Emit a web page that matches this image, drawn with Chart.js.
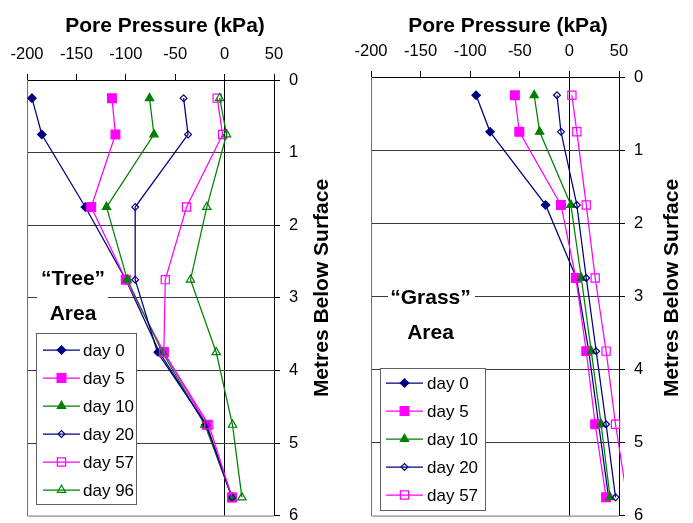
<!DOCTYPE html>
<html><head><meta charset="utf-8">
<script src="https://cdn.jsdelivr.net/npm/chart.js@4/dist/chart.umd.min.js"></script>
<style>
html,body{margin:0;padding:0;background:#fff;}
#wrap{position:relative;width:693px;height:523px;overflow:hidden;background:#fff;}
canvas{position:absolute;top:0;}
</style></head><body>
<div id="wrap">
<canvas id="tree" width="346" height="523" style="left:0;width:346px;height:523px"></canvas>
<canvas id="grass" width="347" height="523" style="left:346px;width:347px;height:523px"></canvas>
</div>
<script>
// ---------- DATA ----------
const depths = [0.25, 0.75, 1.75, 2.75, 3.75, 4.75, 5.75];
const xTicks = [-200, -150, -100, -50, 0, 50];
const yTicks = [0, 1, 2, 3, 4, 5, 6];
const xTitle = 'Pore Pressure (kPa)';
const yTitle = 'Metres Below Surface';

const treeLabels = ['day 0', 'day 5', 'day 10', 'day 20', 'day 57', 'day 96'];
const treeDay0  = [-195, -185, -141, -100, -66, -19, 7.5];
const treeDay5  = [-114, -110.5, -135, -100, -61.5, -18, 7.5];
const treeDay10 = [-76, -71.5, -119.5, -98.5, -63, -20, 7.5];
const treeDay20 = [-41.5, -37, -90.5, -90.5, -68, -18.5, 7.5];
const treeDay57 = [-7.5, -2, -38.5, -60, -61.5, -16, 7.5];
const treeDay96 = [-5, 2, -18, -34.5, -8.5, 8, 17.5];
const treeNote = ['\u201CTree\u201D', 'Area'];

const grassLabels = ['day 0', 'day 5', 'day 10', 'day 20', 'day 57'];
const grassDay0  = [-94, -80, -24, 7, 19.5, 29.5, 39.5];
const grassDay5  = [-55, -50.5, -8.5, 6.5, 17, 26, 37];
const grassDay10 = [-35.5, -30, 1.5, 12, 22, 32, 41];
const grassDay20 = [-12.5, -8.5, 7.5, 17, 27, 37, 46.5];
const grassDay57 = [2.5, 7.5, 17, 26, 37, 46.5, 58];
const grassNote = ['\u201CGrass\u201D', 'Area'];

// ---------- STYLES ----------
const FF = '"Liberation Sans", Arial, Helvetica, sans-serif';
const NAVY = '#000080', MAG = '#FF00FF', GRN = '#008000';
const seriesStyles = [
  {color: NAVY, style: 'rectRot', r: 4.2, fill: true},
  {color: MAG, style: 'rect', r: 6.2, fill: true},
  {color: GRN, style: 'triangle', r: 4.8, fill: true},
  {color: NAVY, style: 'rectRot', r: 3.4, fill: false},
  {color: MAG, style: 'rect', r: 5.8, fill: false},
  {color: GRN, style: 'triangle', r: 4.8, fill: false}
];

function drawMarker(ctx, st, x, y) {
  const r = st.r;
  ctx.save();
  ctx.beginPath();
  if (st.style === 'rect') {
    const s = r * Math.SQRT1_2;
    ctx.rect(x - s, y - s, 2 * s, 2 * s);
  } else if (st.style === 'rectRot') {
    ctx.moveTo(x - r, y); ctx.lineTo(x, y - r); ctx.lineTo(x + r, y); ctx.lineTo(x, y + r); ctx.closePath();
  } else {
    for (let i = 0; i < 3; i++) {
      const a = i * 2 * Math.PI / 3;
      const px = x + Math.sin(a) * r, py = y - Math.cos(a) * r;
      if (i === 0) ctx.moveTo(px, py); else ctx.lineTo(px, py);
    }
    ctx.closePath();
  }
  ctx.lineWidth = 1.2;
  ctx.strokeStyle = st.color;
  if (st.fill) { ctx.fillStyle = st.color; ctx.fill(); }
  ctx.stroke();
  ctx.restore();
}

function makeChart(id, cfg) {
  const datasets = cfg.series.map((vals, i) => {
    const st = seriesStyles[i];
    return {
      label: cfg.labels[i],
      data: vals.map((v, k) => ({x: v, y: depths[k]})),
      borderColor: st.color,
      backgroundColor: st.fill ? st.color : 'rgba(0,0,0,0)',
      pointBackgroundColor: st.fill ? st.color : 'rgba(0,0,0,0)',
      pointBorderColor: st.color,
      pointStyle: st.style,
      pointRadius: st.r,
      pointBorderWidth: 1.2,
      borderWidth: 1.25,
      showLine: true,
      tension: 0,
      order: 10 - i,
      clip: {left: 5, right: 5, top: 5, bottom: 5}
    };
  });

  const deco = {
    id: 'deco',
    beforeDatasetsDraw(chart) {
      const {ctx, chartArea: a} = chart;
      ctx.save();
      ctx.strokeStyle = '#707070';
      ctx.lineWidth = 1;
      ctx.beginPath();
      ctx.moveTo(a.left + 0.5, a.top);
      ctx.lineTo(a.left + 0.5, a.bottom + 0.5);
      ctx.lineTo(a.right, a.bottom + 0.5);
      ctx.stroke();
      ctx.restore();
    },
    afterDatasetsDraw(chart) {
      const {ctx} = chart;
      ctx.save();
      const n = cfg.note;
      ctx.fillStyle = '#fff';
      ctx.fillRect(n.box[0], n.box[1], n.box[2], n.box[3]);
      ctx.fillStyle = '#000';
      ctx.font = 'bold 21px ' + FF;
      ctx.textAlign = 'center';
      ctx.textBaseline = 'alphabetic';
      ctx.fillText(cfg.noteText[0], n.x1, n.y1);
      ctx.fillText(cfg.noteText[1], n.x2, n.y2);
      const L = cfg.legend;
      ctx.fillStyle = '#fff';
      ctx.fillRect(L.x, L.y, L.w, L.h);
      ctx.strokeStyle = '#606060';
      ctx.lineWidth = 1;
      ctx.strokeRect(L.x + 0.5, L.y + 0.5, L.w, L.h);
      ctx.font = '17px ' + FF;
      ctx.textAlign = 'left';
      ctx.textBaseline = 'middle';
      cfg.labels.forEach((lab, i) => {
        const st = seriesStyles[i];
        const yy = L.y + L.first + i * L.step;
        ctx.strokeStyle = st.color;
        ctx.lineWidth = 1.25;
        ctx.beginPath();
        ctx.moveTo(L.x + L.l0, yy); ctx.lineTo(L.x + L.l1, yy);
        ctx.stroke();
        drawMarker(ctx, st, L.x + (L.l0 + L.l1) / 2, yy);
        ctx.fillStyle = '#000';
        ctx.fillText(lab, L.x + L.tx, yy + 1);
      });
      ctx.restore();
    },
    afterDraw(chart) {
      const {ctx} = chart;
      ctx.save();
      ctx.fillStyle = '#000';
      ctx.font = 'bold 21px ' + FF;
      ctx.textAlign = 'center';
      ctx.textBaseline = 'alphabetic';
      ctx.fillText(xTitle, cfg.titleX, 32);
      ctx.translate(cfg.yTitleX, 288);
      ctx.rotate(-Math.PI / 2);
      ctx.fillText(yTitle, 0, 0);
      ctx.restore();
    }
  };

  return new Chart(document.getElementById(id), {
    type: 'scatter',
    data: {datasets},
    plugins: [deco],
    options: {
      responsive: false,
      animation: false,
      devicePixelRatio: 1,
      layout: {padding: {left: cfg.padL, right: 0, top: 0, bottom: cfg.padB}},
      plugins: {legend: {display: false}, tooltip: {enabled: false}},
      scales: {
        x: {
          type: 'linear', position: 'top', min: -200, max: 50,
          afterBuildTicks: s => { s.ticks = xTicks.map(v => ({value: v})); },
          ticks: {font: {family: FF, size: 16.5}, color: '#000', padding: 10, maxRotation: 0, autoSkip: false},
          grid: {
            color: c => (c.tick && c.tick.value === 0) ? '#000' : 'rgba(0,0,0,0)',
            tickColor: '#000', tickLength: 6, lineWidth: 1
          },
          border: {display: true, color: '#000', width: 1},
          afterFit: s => { s.height = cfg.axTop; s.paddingLeft = 0; s.paddingRight = 0; }
        },
        y: {
          type: 'linear', position: 'right', reverse: true, min: 0, max: 6,
          afterBuildTicks: s => { s.ticks = yTicks.map(v => ({value: v})); },
          ticks: {font: {family: FF, size: 16.5}, color: '#000', padding: 9, autoSkip: false},
          grid: {
            color: c => (c.tick && (c.tick.value === 0 || c.tick.value === 6)) ? 'rgba(0,0,0,0)' : '#3a3a3a',
            tickColor: '#000', tickLength: 6, lineWidth: 1
          },
          border: {display: true, color: '#000', width: 1},
          afterFit: s => { s.width = cfg.yw; s.paddingTop = 0; s.paddingBottom = 0; }
        }
      }
    }
  });
}

makeChart('tree', {
  series: [treeDay0, treeDay5, treeDay10, treeDay20, treeDay57, treeDay96],
  labels: treeLabels,
  noteText: treeNote,
  padL: 27, padB: 5, axTop: 80, yw: 72,
  titleX: 165, yTitleX: 328,
  note: {box: [37, 262, 71, 66], x1: 73, y1: 285, x2: 73, y2: 320},
  legend: {x: 36, y: 333, w: 100, h: 171, first: 17, step: 28, l0: 7, l1: 44, tx: 47}
});

makeChart('grass', {
  series: [grassDay0, grassDay5, grassDay10, grassDay20, grassDay57],
  labels: grassLabels,
  noteText: grassNote,
  padL: 25, padB: 3, axTop: 77, yw: 74,
  titleX: 162, yTitleX: 332,
  note: {box: [42, 280, 87, 66], x1: 84.5, y1: 303.5, x2: 84.5, y2: 338.5},
  legend: {x: 34, y: 368, w: 105, h: 142, first: 15, step: 28, l0: 6, l1: 43, tx: 47}
});
</script>
</body></html>
